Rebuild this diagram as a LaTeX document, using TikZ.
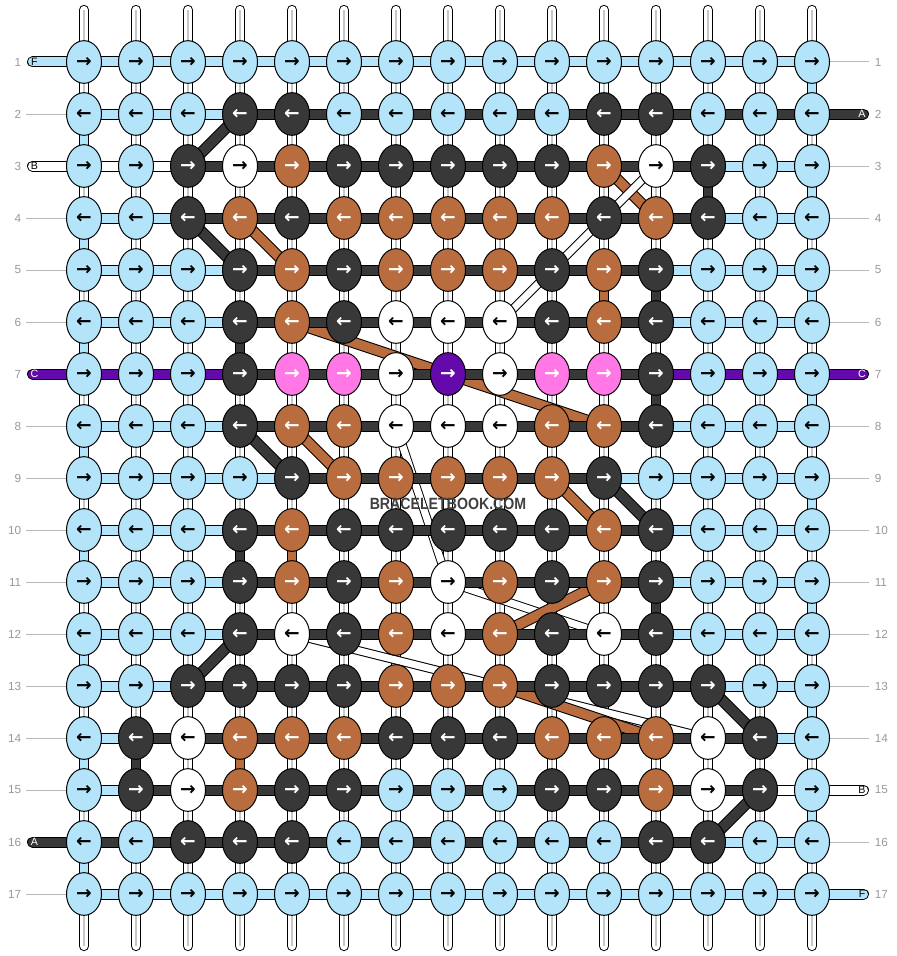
\documentclass[tikz,border=0pt]{standalone}
\usepackage{fontspec}
\setmainfont{Liberation Sans}
\newfontfamily\arrowfont{DejaVu Sans}
\usetikzlibrary{shapes.geometric}
\definecolor{cL}{HTML}{B4E4FA}
\definecolor{cD}{HTML}{383838}
\definecolor{cO}{HTML}{B96C3D}
\definecolor{cW}{HTML}{FFFFFF}
\definecolor{cP}{HTML}{FF78E6}
\definecolor{cV}{HTML}{650AAA}
\colorlet{tL}{black}\colorlet{tW}{black}\colorlet{tD}{white}
\colorlet{tO}{white}\colorlet{tP}{white}\colorlet{tV}{white}
\definecolor{lab}{HTML}{999999}
\definecolor{wm}{HTML}{404040}
\tikzset{
 knot/.style={ellipse, draw=black, line width=0.75pt, minimum width=26.25pt, minimum height=32pt, inner sep=0pt, font=\arrowfont\bfseries\fontsize{14}{14}\selectfont},
 strout/.style={line width=7.7pt, line cap=round, draw=black},
 strin/.style={line width=6.2pt, line cap=round, draw=white},
 strmid/.style={line width=1.5pt, draw=black!22},
 barout/.style={line width=8.25pt, draw=black},
 barin/.style={line width=6.75pt},
 vout/.style={line width=7.7pt, draw=black},
 vin/.style={line width=6.2pt},
 dout/.style={line width=8.6pt, draw=black},
 din/.style={line width=7.1pt},
 wout/.style={line width=6.75pt, draw=black},
 win/.style={line width=5.25pt, draw=white},
 endout/.style={line width=8.25pt, draw=black, line cap=round},
 endin/.style={line width=6.75pt, line cap=round},
 numlab/.style={text=lab, font=\fontsize{8.8}{10}\selectfont, inner sep=0pt},
 guide/.style={draw=lab!70, line width=0.75pt},
 endlab/.style={font=\fontsize{8}{9}\selectfont, inner sep=0pt},
}
\begin{document}
\begin{tikzpicture}[x=0.75pt,y=-0.75pt]
\useasboundingbox[fill=white] (0,0) rectangle (896,956);
% grid coordinates
\foreach \r in {1,...,17}{
  \foreach \c in {1,...,15}{
    \coordinate (p-\r-\c) at ({84+52*(\c-1)},{62+52*(\r-1)});
  }
}
% vertical base strings
\foreach \c in {1,...,15}{
  \coordinate (t-\c) at ({84+52*(\c-1)},10);
  \coordinate (b-\c) at ({84+52*(\c-1)},946);
  \draw[strout] (t-\c) -- (b-\c);
  \draw[strin] (t-\c) -- (b-\c);
  \draw[strmid] (t-\c) -- (b-\c);
}
% diagonal strings (lower ones first)
\foreach \ra/\ca/\rb/\cb/\k in {3/11/4/12/O}{
  \draw[dout] (p-\ra-\ca) -- (p-\rb-\cb);
  \draw[din, draw=c\k] (p-\ra-\ca) -- (p-\rb-\cb);
}
\foreach \ra/\ca/\rb/\cb in {3/12/6/9, 8/7/11/8, 11/8/12/11, 12/5/14/13}{
  \draw[wout] (p-\ra-\ca) -- (p-\rb-\cb);
  \draw[win] (p-\ra-\ca) -- (p-\rb-\cb);
}
\foreach \ra/\ca/\rb/\cb/\k in {2/4/3/3/D, 4/3/5/4/D, 8/4/9/5/D, 9/11/10/12/D, 12/4/13/3/D, 13/13/14/14/D, 15/14/16/13/D,
  4/4/5/5/O, 8/5/9/6/O, 9/10/10/11/O, 11/11/12/9/O, 6/5/8/11/O, 13/9/14/12/O}{
  \draw[dout] (p-\ra-\ca) -- (p-\rb-\cb);
  \draw[din, draw=c\k] (p-\ra-\ca) -- (p-\rb-\cb);
}
% coloured vertical segments
\foreach \c/\r/\k in {1/2/L, 1/4/L, 1/6/L, 1/8/L, 1/10/L, 1/12/L, 1/14/L, 1/16/L,
  15/1/L, 15/3/L, 15/5/L, 15/7/L, 15/9/L, 15/11/L, 15/13/L, 15/15/L,
  13/3/D, 11/5/O, 12/5/D, 4/6/D, 12/7/D, 4/10/D, 5/10/O, 12/11/D, 2/14/D, 4/14/O}{
  \pgfmathtruncatemacro\rn{\r+1}
  \draw[vout] (p-\r-\c) -- (p-\rn-\c);
  \draw[vin, draw=c\k] (p-\r-\c) -- (p-\rn-\c);
}
% horizontal row bars
\foreach \row [count=\r] in {
 {L,L,L,L,L,L,L,L,L,L,L,L,L,L},
 {L,L,L,D,D,D,D,D,D,D,D,D,D,D},
 {W,W,D,D,D,D,D,D,D,D,D,D,L,L},
 {L,L,D,D,D,D,D,D,D,D,D,D,L,L},
 {L,L,L,D,D,D,D,D,D,D,D,L,L,L},
 {L,L,L,D,D,D,D,D,D,D,D,L,L,L},
 {V,V,V,D,D,D,D,D,D,D,D,V,V,V},
 {L,L,L,D,D,D,D,D,D,D,D,L,L,L},
 {L,L,L,L,D,D,D,D,D,D,L,L,L,L},
 {L,L,L,D,D,D,D,D,D,D,D,L,L,L},
 {L,L,L,D,D,D,D,D,D,D,D,L,L,L},
 {L,L,L,D,D,D,D,D,D,D,D,L,L,L},
 {L,L,D,D,D,D,D,D,D,D,D,D,L,L},
 {L,D,D,D,D,D,D,D,D,D,D,D,D,L},
 {L,D,D,D,D,D,D,D,D,D,D,D,D,W},
 {D,D,D,D,D,D,D,D,D,D,D,D,L,L},
 {L,L,L,L,L,L,L,L,L,L,L,L,L,L}}{
  \foreach \b [count=\c] in \row {
    \pgfmathtruncatemacro\cn{\c+1}
    \draw[barout] (p-\r-\c) -- (p-\r-\cn);
    \draw[barin, draw=c\b] (p-\r-\c) -- (p-\r-\cn);
  }
}
% string ends with letters
\foreach \r/\k/\t/\tc in {1/L/F/black, 3/W/B/black, 7/V/C/white, 16/D/A/white}{
  \coordinate (le-\r) at (32.5,{62+52*(\r-1)});
  \draw[endout] (le-\r) -- (p-\r-1);
  \draw[endin, draw=c\k] (le-\r) -- (p-\r-1);
  \node[endlab, text=\tc] (lt-\r) at (34.5,{62+52*(\r-1)}) {\t};
}
\foreach \r/\k/\t/\tc in {2/D/A/white, 7/V/C/white, 15/W/B/black, 17/L/F/black}{
  \coordinate (re-\r) at (863.5,{62+52*(\r-1)});
  \draw[endout] (p-\r-15) -- (re-\r);
  \draw[endin, draw=c\k] (p-\r-15) -- (re-\r);
  \node[endlab, text=\tc] (rt-\r) at (862,{62+52*(\r-1)}) {\t};
}
% guide lines to row numbers
\foreach \r in {2,4,5,6,8,9,10,11,12,13,14,15,17}{
  \coordinate (lg-\r) at (26,{62+52*(\r-1)});
  \draw[guide] (lg-\r) -- (p-\r-1);
}
\foreach \r in {1,3,4,5,6,8,9,10,11,12,13,14,16}{
  \coordinate (rg-\r) at (869,{62+52*(\r-1)});
  \draw[guide] (p-\r-15) -- (rg-\r);
}
% row numbers
\foreach \r in {1,...,17}{
  \node[numlab, anchor=east] (ln-\r) at (21.5,{62+52*(\r-1)}) {\r};
  \node[numlab, anchor=west] (rn-\r) at (874.5,{62+52*(\r-1)}) {\r};
}
% knots
\foreach \row [count=\r] in {
 {L,L,L,L,L,L,L,L,L,L,L,L,L,L,L},
 {L,L,L,D,D,L,L,L,L,L,D,D,L,L,L},
 {L,L,D,W,O,D,D,D,D,D,O,W,D,L,L},
 {L,L,D,O,D,O,O,O,O,O,D,O,D,L,L},
 {L,L,L,D,O,D,O,O,O,D,O,D,L,L,L},
 {L,L,L,D,O,D,W,W,W,D,O,D,L,L,L},
 {L,L,L,D,P,P,W,V,W,P,P,D,L,L,L},
 {L,L,L,D,O,O,W,W,W,O,O,D,L,L,L},
 {L,L,L,L,D,O,O,O,O,O,D,L,L,L,L},
 {L,L,L,D,O,D,D,D,D,D,O,D,L,L,L},
 {L,L,L,D,O,D,O,W,O,D,O,D,L,L,L},
 {L,L,L,D,W,D,O,W,O,D,W,D,L,L,L},
 {L,L,D,D,D,D,O,O,O,D,D,D,D,L,L},
 {L,D,W,O,O,O,D,D,D,O,O,O,W,D,L},
 {L,D,W,O,D,D,L,L,L,D,D,O,W,D,L},
 {L,L,D,D,D,L,L,L,L,L,L,D,D,L,L},
 {L,L,L,L,L,L,L,L,L,L,L,L,L,L,L}}{
  \ifodd\r \def\arr{→}\else\def\arr{←}\fi
  \foreach \k [count=\c] in \row {
    \node[knot, fill=c\k, text=t\k] (k-\r-\c) at (p-\r-\c) {\arr};
  }
}
% watermark
\node[font=\bfseries\fontsize{12.2}{12}\selectfont, text=wm, xscale=0.87, inner sep=0pt] (wm) at (448,504) {BRACELETBOOK.COM};
\end{tikzpicture}
\end{document}
